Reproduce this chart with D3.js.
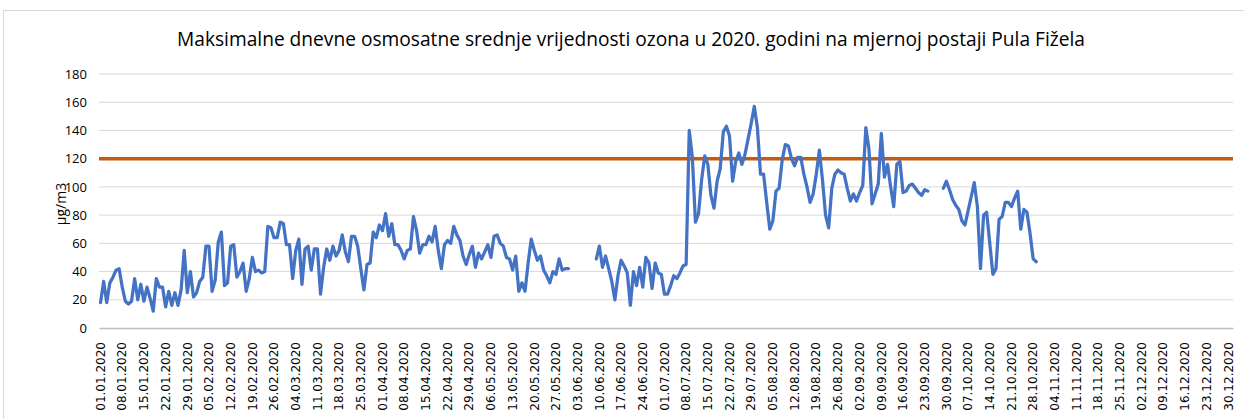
<!DOCTYPE html>
<html>
<head>
<meta charset="utf-8">
<script src="https://cdn.jsdelivr.net/npm/d3@7"></script>
<style>
  body { margin: 0; background: #fff; }
  svg { display: block; }
</style>
</head>
<body>
<svg id="chart"></svg>
<script>
// daily max 8h means, one array per month (null = no data)
var jan = [18,33,18,32,36,41,42,29,19,17,19,35,20,31,19,29,21,12,35,29,29,15,26,16,25,16,27,55,25,40,22];
var feb = [25,33,36,58,58,26,34,61,68,30,32,58,59,36,40,46,26,35,50,40,41,39,40,72,71,64,64,75,74];
var mar = [59,59,35,55,63,31,56,58,41,56,56,24,43,56,48,58,51,55,66,54,47,65,65,58,42,27,45,46,68,64,73];
var apr = [69,81,65,74,59,59,55,49,55,56,79,69,53,59,59,65,61,72,55,42,59,62,60,72,66,62,51,45,52,58];
var may = [43,53,49,54,59,50,65,66,60,58,50,49,41,51,26,32,26,46,63,55,48,51,41,37,32,40,38,49,41,42,42];
var jun = [null,null,null,null,null,null,null,null,49,58,43,51,42,33,20,37,48,44,39,16,40,30,43,29,50,46,28,46,39,38];
var jul = [24,24,30,37,35,39,44,45,140,121,75,81,105,122,116,94,85,104,113,139,143,136,104,118,124,116,123,134,145,157,142];
var aug = [109,109,89,70,76,97,99,119,130,129,120,115,121,121,109,100,89,95,109,126,105,80,71,99,109,112,110,109,99,90,95];
var sep = [90,96,101,142,127,88,95,102,138,107,116,100,86,116,118,96,97,101,102,99,96,94,98,97,null,null,null,null,99,104];
var oct = [98,91,87,84,76,73,83,93,103,86,42,80,82,60,38,42,77,79,89,89,86,92,97,70,84,82,67,49,47,null,null];
var nov = new Array(30).fill(null);
var dec = new Array(31).fill(null);

var limitValue = 120;
var yTicks = [0, 20, 40, 60, 80, 100, 120, 140, 160, 180];
var tickLabels = ['01.01.2020','08.01.2020','15.01.2020','22.01.2020','29.01.2020','05.02.2020','12.02.2020',
  '19.02.2020','26.02.2020','04.03.2020','11.03.2020','18.03.2020','25.03.2020','01.04.2020','08.04.2020',
  '15.04.2020','22.04.2020','29.04.2020','06.05.2020','13.05.2020','20.05.2020','27.05.2020','03.06.2020',
  '10.06.2020','17.06.2020','24.06.2020','01.07.2020','08.07.2020','15.07.2020','22.07.2020','29.07.2020',
  '05.08.2020','12.08.2020','19.08.2020','26.08.2020','02.09.2020','09.09.2020','16.09.2020','23.09.2020',
  '30.09.2020','07.10.2020','14.10.2020','21.10.2020','28.10.2020','04.11.2020','11.11.2020','18.11.2020',
  '25.11.2020','02.12.2020','09.12.2020','16.12.2020','23.12.2020','30.12.2020'];

var values = [].concat(jan, feb, mar, apr, may, jun, jul, aug, sep, oct, nov, dec);
var fmt = d3.timeFormat('%d.%m.%Y');
var days = d3.timeDays(new Date(2020, 0, 1), new Date(2021, 0, 1)).map(fmt);
var data = days.map(function (d, i) { return { day: d, value: values[i] }; });

var W = 1244, H = 419;
var margin = { top: 74, right: 11, bottom: 91, left: 99 },
  width = W - margin.left - margin.right,
  height = H - margin.top - margin.bottom;

var root = d3.select('#chart').attr('width', W).attr('height', H);

// outer chart border
root.append('rect')
  .attr('x', 3.5).attr('y', 10.5)
  .attr('width', W + 10).attr('height', H + 10)
  .attr('fill', 'none').attr('stroke', '#d9d9d9');

root.append('text')
  .attr('class', 'title')
  .attr('x', 631).attr('y', 46)
  .attr('text-anchor', 'middle')
  .style('font-family', 'Open Sans, sans-serif')
  .style('font-size', '17px')
  .attr('fill', '#000')
  .text('Maksimalne dnevne osmosatne srednje vrijednosti ozona u 2020. godini na mjernoj postaji Pula Fižela');

// fit title to the reference's width
var t = root.select('.title');
var len = t.node().getComputedTextLength();
t.style('font-size', (17 * 908 / len).toFixed(2) + 'px');

var svg = root.append('g')
  .attr('transform', 'translate(' + margin.left + ',' + margin.top + ')');

var x = d3.scaleBand().domain(days).range([0, width]).padding(0);
var y = d3.scaleLinear().domain([0, 180]).range([height, 0]);

// gridlines
svg.append('g')
  .selectAll('line')
  .data(yTicks.filter(function (d) { return d > 0; }))
  .enter().append('line')
  .attr('x1', 0).attr('x2', width)
  .attr('y1', function (d) { return y(d); })
  .attr('y2', function (d) { return y(d); })
  .attr('stroke', '#d9d9d9').attr('stroke-width', 1);

// y axis
var yAxis = svg.append('g')
  .call(d3.axisLeft(y).tickValues(yTicks).tickSize(0).tickPadding(12));
yAxis.select('.domain').remove();
yAxis.selectAll('text')
  .style('font-family', 'Open Sans, sans-serif')
  .style('font-size', '13px')
  .attr('fill', '#000');

// x axis
var xAxis = svg.append('g')
  .attr('transform', 'translate(0,' + height + ')')
  .call(d3.axisBottom(x).tickValues(tickLabels).tickSize(0));
xAxis.select('.domain').attr('stroke', '#bfbfbf').attr('stroke-width', 1.5);
xAxis.selectAll('text')
  .style('font-family', 'DejaVu Sans, sans-serif')
  .style('font-size', '12px')
  .attr('fill', '#000')
  .attr('text-anchor', 'end')
  .attr('transform', 'rotate(-90)')
  .attr('x', -14)
  .attr('y', 0)
  .attr('dy', '0.35em');

root.append('text')
  .attr('transform', 'translate(66,204) rotate(-90)')
  .attr('text-anchor', 'middle')
  .style('font-family', 'Open Sans, sans-serif')
  .style('font-size', '14px')
  .text('µg/m3');

// limit line
svg.append('line')
  .attr('x1', 0).attr('x2', width)
  .attr('y1', y(limitValue)).attr('y2', y(limitValue))
  .attr('stroke', '#c55a11').attr('stroke-width', 3.5);

var line = d3.line()
  .defined(function (d) { return d.value != null; })
  .x(function (d) { return x(d.day) + x.bandwidth() / 2; })
  .y(function (d) { return y(d.value); });

svg.append('path')
  .datum(data)
  .attr('d', line)
  .attr('fill', 'none')
  .attr('stroke', '#4472c4')
  .attr('stroke-width', 3.25)
  .attr('stroke-linejoin', 'round')
  .attr('stroke-linecap', 'round');
</script>
</body>
</html>
